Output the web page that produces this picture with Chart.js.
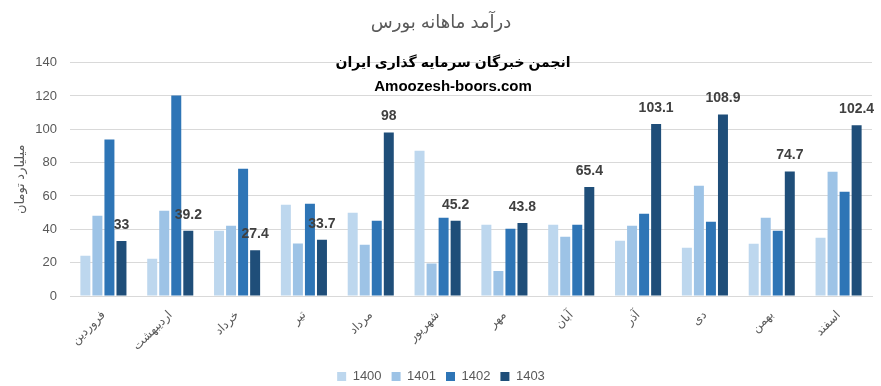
<!DOCTYPE html>
<html>
<head>
<meta charset="utf-8">
<script src="https://cdn.jsdelivr.net/npm/chart.js@4"></script>
<style>
  html, body { margin: 0; padding: 0; background: #fff; }
  #wrap { width: 881px; height: 386px; }
</style>
</head>
<body>
<div id="wrap"><canvas id="chart-area"></canvas></div>
<script>
var months = ['فروردین', 'اردیبهشت', 'خرداد', 'تیر', 'مرداد', 'شهریور', 'مهر', 'آبان', 'آذر', 'دی', 'بهمن', 'اسفند'];
var v1400 = [24.1, 22.3, 39.1, 54.8, 49.9, 87.2, 42.7, 42.7, 33.1, 28.9, 31.3, 34.9];
var v1401 = [48.1, 51.1, 42.1, 31.5, 30.7, 19.5, 15.0, 35.5, 42.1, 66.2, 46.9, 74.6];
var v1402 = [93.9, 120.2, 76.4, 55.4, 45.1, 46.9, 40.3, 42.7, 49.3, 44.5, 39.1, 62.6];
var v1403 = [33, 39.2, 27.4, 33.7, 98, 45.2, 43.8, 65.4, 103.1, 108.9, 74.7, 102.4];
var yTicks = [0, 20, 40, 60, 80, 100, 120, 140];

var FONT = "'Liberation Sans', 'DejaVu Sans', sans-serif";
var GREY = '#595959';

// value labels above the 1403 bars + the two watermark lines
var labelsPlugin = {
	id: 'labels1403',
	afterDatasetsDraw: function(chart) {
		var ctx = chart.ctx;
		var meta = chart.getDatasetMeta(3);
		ctx.save();
		ctx.font = 'bold 14px ' + FONT;
		ctx.fillStyle = '#404040';
		ctx.textAlign = 'center';
		ctx.textBaseline = 'middle';
		meta.data.forEach(function(bar, i) {
			ctx.fillText(String(v1403[i]), bar.x, bar.y - 16);
		});
		ctx.restore();
	},
	afterDraw: function(chart) {
		var ctx = chart.ctx;
		ctx.save();
		ctx.fillStyle = '#000';
		ctx.textAlign = 'center';
		ctx.textBaseline = 'middle';
		ctx.font = 'bold 14px ' + FONT;
		ctx.fillText('انجمن خبرگان سرمایه گذاری ایران', 453, 63);
		ctx.font = 'bold 15px ' + FONT;
		ctx.fillText('Amoozesh-boors.com', 453, 87);
		ctx.restore();
	}
};

var config = {
	type: 'bar',
	data: {
		labels: months,
		datasets: [
			{ label: '1400', data: v1400, backgroundColor: '#BDD7EE' },
			{ label: '1401', data: v1401, backgroundColor: '#9DC3E6' },
			{ label: '1402', data: v1402, backgroundColor: '#2E75B6' },
			{ label: '1403', data: v1403, backgroundColor: '#1F4E79' }
		]
	},
	options: {
		responsive: true,
		maintainAspectRatio: false,
		animation: false,
		datasets: { bar: { categoryPercentage: 0.72, barPercentage: 0.83 } },
		layout: { padding: { left: 10, right: 9, bottom: -7 } },
		plugins: {
			title: {
				display: true,
				text: 'درآمد ماهانه بورس',
				color: GREY,
				font: { family: FONT, size: 18, weight: 'normal' },
				padding: { top: 12, bottom: 29 }
			},
			legend: {
				position: 'bottom',
				labels: {
					boxWidth: 9, boxHeight: 9, padding: 10,
					color: GREY,
					font: { family: FONT, size: 13 }
				}
			},
			tooltip: { enabled: false }
		},
		scales: {
			x: {
				grid: { display: false },
				border: { color: '#d9d9d9' },
				ticks: {
					color: GREY,
					font: { family: FONT, size: 12 },
					minRotation: 45, maxRotation: 45, padding: 4
				},
				afterFit: function(scale) { scale.height = 64; }
			},
			y: {
				min: 0, max: 140,
				afterBuildTicks: function(scale) {
					scale.ticks = yTicks.map(function(v) { return { value: v }; });
				},
				grid: { color: '#d9d9d9', drawTicks: false },
				border: { display: false },
				ticks: {
					color: GREY,
					font: { family: FONT, size: 13 },
					padding: 13
				},
				title: {
					display: true,
					text: 'میلیارد تومان',
					color: GREY,
					font: { family: FONT, size: 13 },
					padding: { top: 3, bottom: 0 }
				},
				afterFit: function(scale) { scale.width = 60; }
			}
		}
	},
	plugins: [labelsPlugin]
};

window.onload = function() {
	var ctx = document.getElementById('chart-area').getContext('2d');
	window.myBar = new Chart(ctx, config);
};
</script>
</body>
</html>
